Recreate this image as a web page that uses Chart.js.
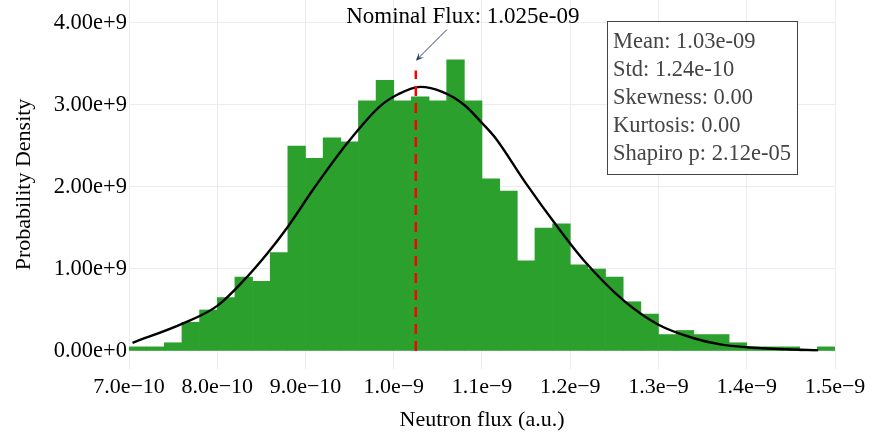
<!DOCTYPE html>
<html><head><meta charset="utf-8">
<script src="https://cdn.jsdelivr.net/npm/chart.js@4.4.1/dist/chart.umd.min.js"></script>
<style>html,body{margin:0;padding:0;background:#fff}#wrap{width:870px;height:439px;position:relative}</style>
</head><body><div id="wrap"><canvas id="c" width="870" height="439"></canvas></div>
<script>
// ---- data ----
const binCenters = [7.1e-10,7.3e-10,7.5e-10,7.7e-10,7.9e-10,8.1e-10,8.3e-10,8.5e-10,8.7e-10,8.9e-10,
  9.1e-10,9.3e-10,9.5e-10,9.7e-10,9.9e-10,1.01e-9,1.03e-9,1.05e-9,1.07e-9,1.09e-9,
  1.11e-9,1.13e-9,1.15e-9,1.17e-9,1.19e-9,1.21e-9,1.23e-9,1.25e-9,1.27e-9,1.29e-9,
  1.31e-9,1.33e-9,1.35e-9,1.37e-9,1.39e-9,1.41e-9,1.43e-9,1.45e-9,1.47e-9,1.49e-9];
const densityE9 = [0.05,0.05,0.10,0.35,0.50,0.65,0.90,0.85,1.20,2.50,
  2.35,2.60,2.55,3.05,3.30,3.05,3.10,3.05,3.55,3.05,
  2.10,1.95,1.10,1.50,1.55,1.05,1.00,0.90,0.60,0.45,
  0.20,0.25,0.20,0.20,0.10,0.05,0.05,0.05,0.00,0.05];
const fitX = [7.04e-10,7.6e-10,8.0e-10,8.3e-10,8.56e-10,8.79e-10,9.1e-10,9.47e-10,9.84e-10,1.005e-9,1.03e-9,
  1.055e-9,1.08e-9,1.1e-9,1.115e-9,1.15e-9,1.185e-9,1.215e-9,1.26e-9,1.3e-9,1.34e-9,1.37e-9,1.4e-9,1.445e-9,1.481e-9];
const fitE9 = [0.10,0.33,0.55,0.86,1.18,1.50,1.99,2.53,2.98,3.13,3.22,
  3.16,3.00,2.78,2.60,2.04,1.52,1.11,0.62,0.32,0.155,0.08,0.045,0.02,0.01];
const nominalFlux = 1.025e-9;
const nominalLineTopE9 = 3.42;
const arrowTipE9 = 3.54;
const xTickValues = [7e-10,8e-10,9e-10,1.0e-9,1.1e-9,1.2e-9,1.3e-9,1.4e-9,1.5e-9];
const xTickLabels = ['7.0e\u221210','8.0e\u221210','9.0e\u221210','1.0e\u22129','1.1e\u22129','1.2e\u22129','1.3e\u22129','1.4e\u22129','1.5e\u22129'];
const yTickValuesE9 = [0,1,2,3,4];
const yTickLabels = ['0.00e+0','1.00e+9','2.00e+9','3.00e+9','4.00e+9'];
const statLines = ['Mean: 1.03e-09','Std: 1.24e-10','Skewness: 0.00','Kurtosis: 0.00','Shapiro p: 2.12e-05'];
const annotationText = 'Nominal Flux: 1.025e-09';

// ---- chart ----
const FONT = "'Liberation Serif','Times New Roman',serif";
const GRID = '#e9ecf1';

const annoPlugin = {
  id: 'anno',
  afterDatasetsDraw(chart) {
    const {ctx, chartArea, scales: {x, y}} = chart;
    ctx.save();
    // arrow
    const hx = x.getPixelForValue(nominalFlux), hy = y.getPixelForValue(arrowTipE9 * 1e9);
    const tx = hx + 31, ty = hy - 31;
    ctx.strokeStyle = '#2a3f5f'; ctx.fillStyle = '#2a3f5f'; ctx.lineWidth = 1;
    ctx.beginPath(); ctx.moveTo(tx, ty); ctx.lineTo(hx + 3, hy - 3); ctx.stroke();
    const ang = Math.atan2(hy - ty, hx - tx), L = 8, W = 3.5;
    const bx = hx - L * Math.cos(ang), by = hy - L * Math.sin(ang);
    ctx.beginPath(); ctx.moveTo(hx, hy);
    ctx.lineTo(bx + W * Math.sin(ang), by - W * Math.cos(ang));
    ctx.lineTo(hx - 0.55 * L * Math.cos(ang), hy - 0.55 * L * Math.sin(ang));
    ctx.lineTo(bx - W * Math.sin(ang), by + W * Math.cos(ang));
    ctx.closePath(); ctx.fill();
    // annotation text
    ctx.font = '23px ' + FONT; ctx.fillStyle = '#000';
    ctx.textAlign = 'center'; ctx.textBaseline = 'alphabetic';
    ctx.fillText(annotationText, hx + 47, hy - 38);
    // stats box
    ctx.font = '22.5px ' + FONT;
    let w = 0; statLines.forEach(s => w = Math.max(w, ctx.measureText(s).width));
    const bxl = chartArea.left + 478, btop = chartArea.top + 21, pad = 6, lh = 27.9;
    const bw = w + 2 * pad, bh = lh * statLines.length + 13;
    ctx.fillStyle = '#fff'; ctx.fillRect(bxl, btop, bw, bh);
    ctx.strokeStyle = '#444'; ctx.lineWidth = 1;
    ctx.strokeRect(Math.round(bxl) + 0.5, Math.round(btop) + 0.5, Math.round(bw), Math.round(bh));
    ctx.fillStyle = '#444'; ctx.textAlign = 'left'; ctx.textBaseline = 'middle';
    statLines.forEach((s, i) => ctx.fillText(s, bxl + pad, btop + 21 + i * lh));
    ctx.restore();
  }
};

new Chart(document.getElementById('c'), {
  type: 'bar',
  data: {
    datasets: [
      {
        type: 'line', order: 1,
        data: [{x: nominalFlux, y: 0}, {x: nominalFlux, y: nominalLineTopE9 * 1e9}],
        borderColor: '#ff0000', borderWidth: 2.5, borderDash: [10, 7], pointRadius: 0, fill: false
      },
      {
        type: 'line', order: 2,
        data: fitX.map((v, i) => ({x: v, y: fitE9[i] * 1e9})),
        borderColor: '#000', borderWidth: 2.4, pointRadius: 0, fill: false,
        cubicInterpolationMode: 'monotone'
      },
      {
        type: 'bar', order: 3,
        data: binCenters.map((v, i) => ({x: v, y: densityE9[i] * 1e9})),
        backgroundColor: '#2ca02c', borderWidth: 0,
        barPercentage: 1, categoryPercentage: 1
      }
    ]
  },
  options: {
    responsive: false, animation: false, devicePixelRatio: 1,
    layout: {padding: {left: 0, right: 35, top: 0, bottom: 0}},
    plugins: {legend: {display: false}, tooltip: {enabled: false}},
    scales: {
      x: {
        type: 'linear', min: 7e-10, max: 1.5e-9, offset: false,
        grid: {color: GRID, lineWidth: 1, drawTicks: false, offset: false},
        border: {display: false},
        afterBuildTicks: s => { s.ticks = xTickValues.map(v => ({value: v})); },
        ticks: {
          autoSkip: false, maxRotation: 0, padding: 5, color: '#000',
          font: {family: FONT, size: 22},
          callback: (v, i) => xTickLabels[i]
        },
        title: {display: true, text: 'Neutron flux (a.u.)', color: '#000',
          font: {family: FONT, size: 22}, padding: {top: 0, bottom: 6}},
        afterFit: s => { s.height = 70; s.paddingLeft = 0; s.paddingRight = 0; }
      },
      y: {
        type: 'linear', min: -0.22e9, max: 4.28e9,
        grid: {color: GRID, lineWidth: 1, drawTicks: false},
        border: {display: false},
        afterBuildTicks: s => { s.ticks = yTickValuesE9.map(v => ({value: v * 1e9})); },
        ticks: {
          padding: 2, color: '#000',
          font: {family: FONT, size: 22.5},
          callback: (v, i) => yTickLabels[i]
        },
        title: {display: true, text: 'Probability Density', color: '#000',
          font: {family: FONT, size: 22}, padding: {top: 11, bottom: 0}},
        afterFit: s => { s.width = 129; s.paddingTop = 0; s.paddingBottom = 0; }
      }
    }
  },
  plugins: [annoPlugin]
});
</script>
</body></html>
